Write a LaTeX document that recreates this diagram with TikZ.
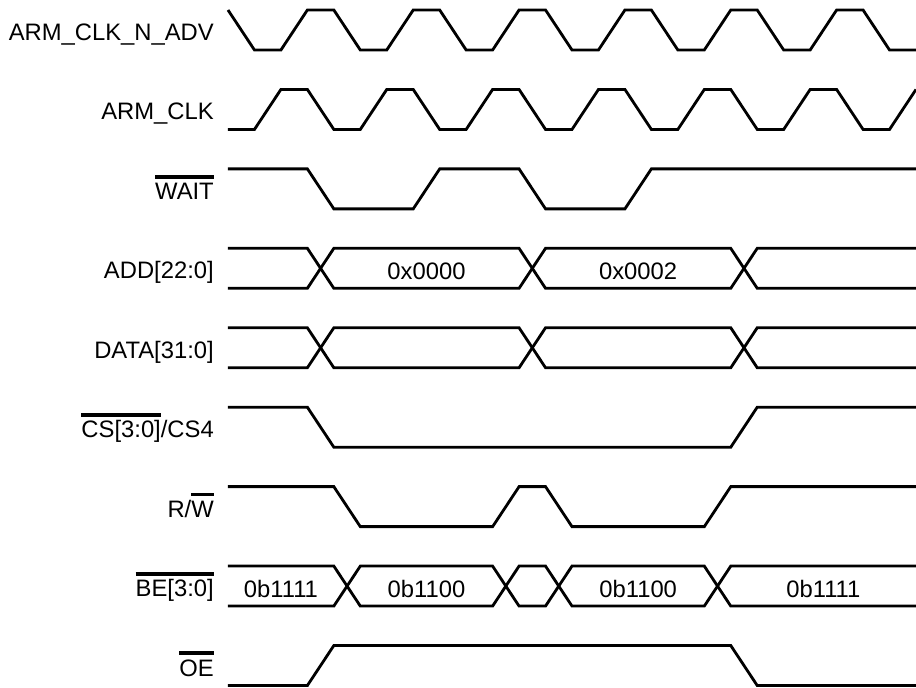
\documentclass[tikz,border=0pt]{standalone}
\usepackage{fontspec}
\setmainfont{Liberation Sans}
\newcommand\obar[1]{\setbox0=\hbox{#1}\rlap{\rule[20.8pt]{\wd0}{3.8pt}}\box0}
\begin{document}
\begin{tikzpicture}[x=26.4615pt,y=-1pt,
  sig/.style={line width=2.8pt},
  lbl/.style={anchor=base east, inner sep=0pt, font=\fontsize{23.8}{28}\selectfont},
  val/.style={anchor=base, inner sep=0pt, font=\fontsize{23.8}{28}\selectfont}]
\useasboundingbox (-8.6163,0) rectangle (26,688);
% Row 1: ARM_CLK_N_ADV
\begin{scope}[shift={(0,10)}]
  \node[lbl] (n1) at (-0.53,30.5) {ARM\_CLK\_N\_ADV};
  \draw[sig] (0,0) \foreach \k in {0,...,5} { -- ({4*\k+1},40) -- ({4*\k+2},40) -- ({4*\k+3},0) -- ({4*\k+4},0) } -- (25,40) -- (26,40);
\end{scope}
% Row 2: ARM_CLK
\begin{scope}[shift={(0,89.44)}]
  \node[lbl] (n2) at (-0.53,30.5) {ARM\_CLK};
  \draw[sig] (0,40) \foreach \k in {0,...,5} { -- ({4*\k+1},40) -- ({4*\k+2},0) -- ({4*\k+3},0) -- ({4*\k+4},40) } -- (25,40) -- (26,0);
\end{scope}
% Row 3: WAIT
\begin{scope}[shift={(0,168.88)}]
  \node[lbl] (n3) at (-0.53,30.5) {\obar{WAIT}};
  \draw[sig] (0,0) -- (3,0) -- (4,40) -- (7,40) -- (8,0) -- (11,0) -- (12,40) -- (15,40) -- (16,0) -- (26,0);
\end{scope}
% Row 4: ADD
\begin{scope}[shift={(0,248.32)}]
  \node[lbl] (n4) at (-0.53,30.5) {ADD[22:0]};
  \draw[sig] (0,0) -- (3,0) -- (4,40) -- (11,40) -- (12,0) -- (19,0) -- (20,40) -- (26,40);
  \draw[sig] (0,40) -- (3,40) -- (4,0) -- (11,0) -- (12,40) -- (19,40) -- (20,0) -- (26,0);
  \node[val] (a1) at (7.5,31) {0x0000};
  \node[val] (a2) at (15.5,31) {0x0002};
\end{scope}
% Row 5: DATA
\begin{scope}[shift={(0,327.76)}]
  \node[lbl] (n5) at (-0.53,30.5) {DATA[31:0]};
  \draw[sig] (0,0) -- (3,0) -- (4,40) -- (11,40) -- (12,0) -- (19,0) -- (20,40) -- (26,40);
  \draw[sig] (0,40) -- (3,40) -- (4,0) -- (11,0) -- (12,40) -- (19,40) -- (20,0) -- (26,0);
\end{scope}
% Row 6: CS
\begin{scope}[shift={(0,407.2)}]
  \node[lbl] (n6) at (-0.53,30.5) {\obar{CS[3:0]}/CS4};
  \draw[sig] (0,0) -- (3,0) -- (4,40) -- (19,40) -- (20,0) -- (26,0);
\end{scope}
% Row 7: R/W
\begin{scope}[shift={(0,486.64)}]
  \node[lbl] (n7) at (-0.53,30.5) {R/\obar{W}};
  \draw[sig] (0,0) -- (4,0) -- (5,40) -- (10,40) -- (11,0) -- (12,0) -- (13,40) -- (18,40) -- (19,0) -- (26,0);
\end{scope}
% Row 8: BE
\begin{scope}[shift={(0,566.08)}]
  \node[lbl] (n8) at (-0.53,30.5) {\obar{BE[3:0]}};
  \draw[sig] (0,0) -- (4,0) -- (5,40) -- (10,40) -- (11,0) -- (12,0) -- (13,40) -- (18,40) -- (19,0) -- (26,0);
  \draw[sig] (0,40) -- (4,40) -- (5,0) -- (10,0) -- (11,40) -- (12,40) -- (13,0) -- (18,0) -- (19,40) -- (26,40);
  \node[val] (b1) at (2,31) {0b1111};
  \node[val] (b2) at (7.5,31) {0b1100};
  \node[val] (b3) at (15.5,31) {0b1100};
  \node[val] (b4) at (22.5,31) {0b1111};
\end{scope}
% Row 9: OE
\begin{scope}[shift={(0,645.52)}]
  \node[lbl] (n9) at (-0.53,30.5) {\obar{OE}};
  \draw[sig] (0,40) -- (3,40) -- (4,0) -- (19,0) -- (20,40) -- (26,40);
\end{scope}
\end{tikzpicture}
\end{document}
